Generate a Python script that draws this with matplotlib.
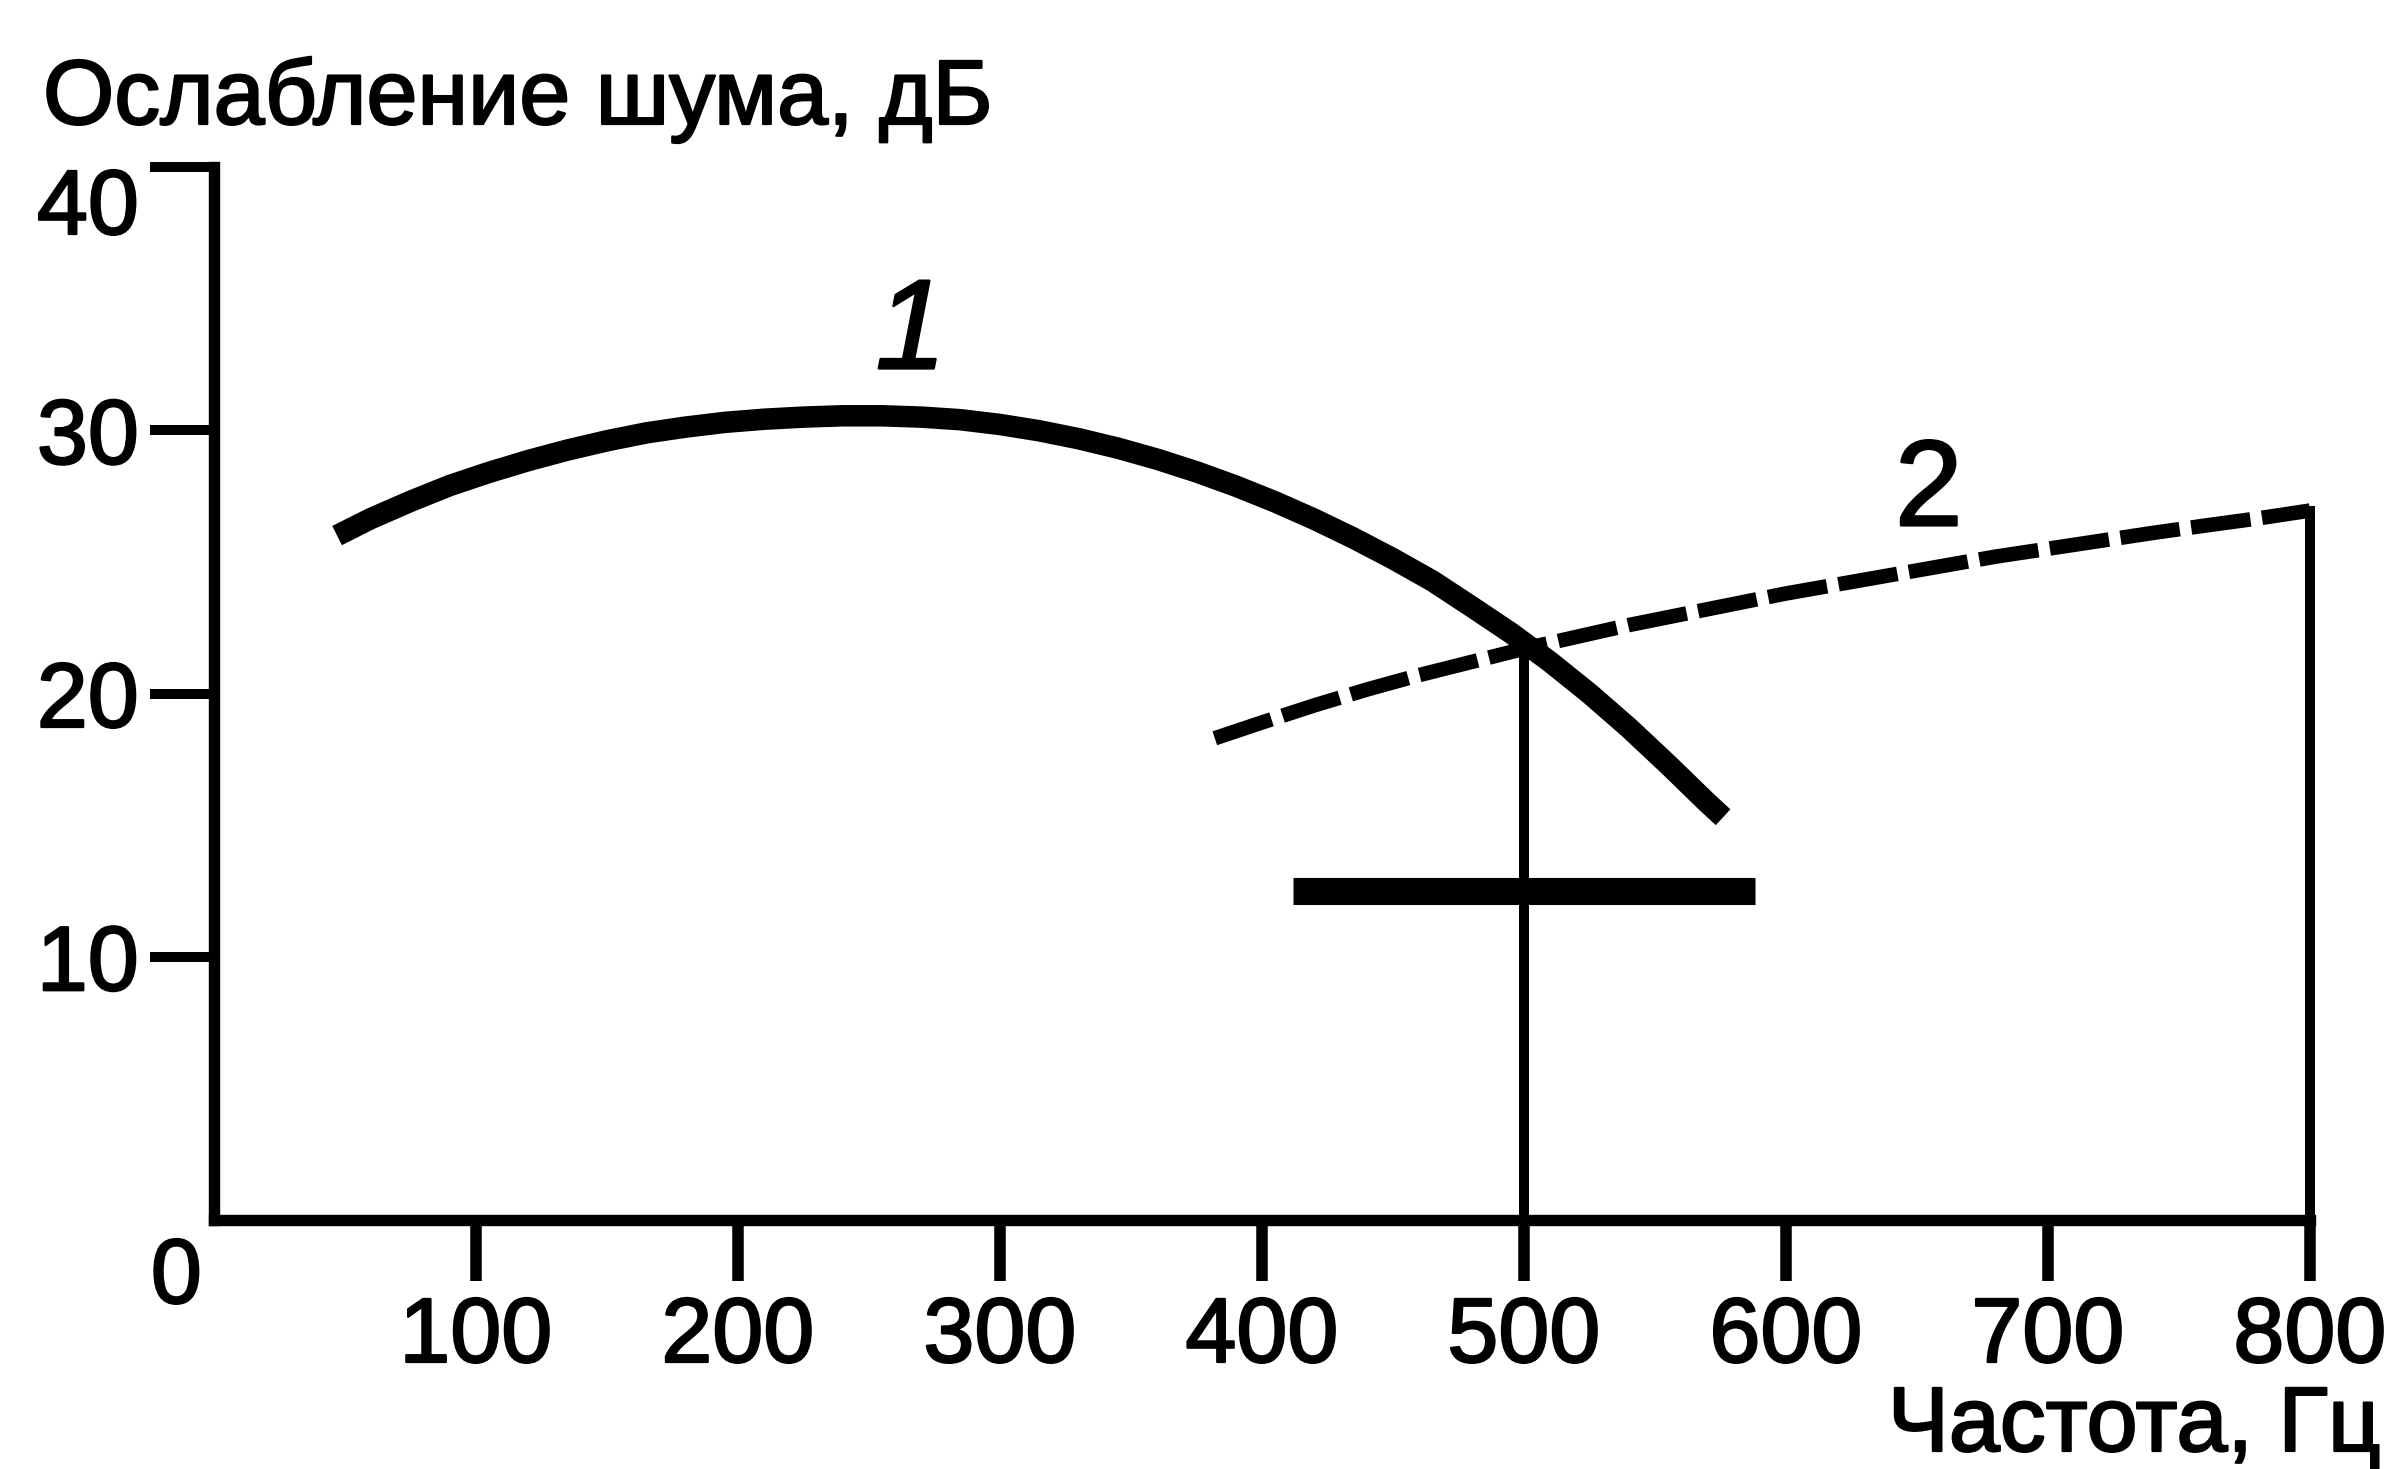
import matplotlib
matplotlib.use("Agg")
import matplotlib.pyplot as plt
import matplotlib.patheffects as pe

plt.rcParams['font.family'] = ['Liberation Sans', 'DejaVu Sans']

# curve 1 - solid
freq_1 = [47, 60, 75, 90, 105, 120, 135, 150, 165, 180, 195, 210, 225, 240, 255,
          270, 285, 300, 315, 330, 345, 360, 375, 390, 405, 420, 435, 450, 465,
          480, 495, 510, 525, 540, 555, 570, 576]
atten_1 = [26.0, 26.65, 27.3, 27.9, 28.4, 28.85, 29.25, 29.6, 29.9, 30.12, 30.3,
           30.42, 30.5, 30.55, 30.55, 30.5, 30.4, 30.22, 29.98, 29.68, 29.32,
           28.9, 28.42, 27.88, 27.28, 26.62, 25.9, 25.12, 24.28, 23.3, 22.3,
           21.2, 20.0, 18.7, 17.3, 15.85, 15.3]

# curve 2 - dashed
freq_2 = [382, 400, 420, 440, 460, 480, 500, 520, 540, 560, 580, 600, 620, 640,
          660, 680, 700, 720, 740, 760, 780, 800]
atten_2 = [18.3, 18.9, 19.55, 20.15, 20.7, 21.2, 21.7, 22.15, 22.6, 23.0, 23.4,
           23.8, 24.15, 24.5, 24.85, 25.2, 25.5, 25.8, 26.1, 26.38, 26.65, 26.95]

# horizontal bar and vertical marker lines
bar_x = [412, 588]
bar_y = 12.5
marker_x = [500, 800]
marker_top = [21.75, 26.95]

x_ticks = [100, 200, 300, 400, 500, 600, 700, 800]
y_ticks = [10, 20, 30, 40]

heavy = [pe.withStroke(linewidth=1.6, foreground='black')]

fig = plt.figure(figsize=(24.01, 14.69), dpi=100)
ax = fig.add_axes([0.0891, 0.1695, 0.9621 - 0.0891, 0.8863 - 0.1695])

ax.plot(freq_1, atten_1, color='black', lw=15.5, solid_capstyle='butt',
        solid_joinstyle='round', clip_on=False)
ax.plot(freq_2, atten_2, color='black', lw=10.5, dashes=(4.1, 0.8),
        dash_capstyle='butt', clip_on=False)
ax.plot(bar_x, [bar_y, bar_y], color='black', lw=19.5, solid_capstyle='butt')
for mx, mt in zip(marker_x, marker_top):
    ax.plot([mx, mx], [0, mt], color='black', lw=7.2, clip_on=False)

ax.set_xlim(0, 800)
ax.set_ylim(0, 40)
ax.spines['top'].set_visible(False)
ax.spines['right'].set_visible(False)
for s in ['left', 'bottom']:
    ax.spines[s].set_linewidth(8.2)
    ax.spines[s].set_capstyle('projecting')

ax.set_xticks(x_ticks)
ax.set_yticks(y_ticks)
ax.tick_params(axis='x', direction='out', length=44, width=8.3, pad=10, labelsize=66)
ax.tick_params(axis='y', direction='out', length=46, width=7.2, pad=8, labelsize=66)
ax.get_yticklabels()[-1].set_va('top')
for t in ax.get_xticklabels() + ax.get_yticklabels():
    t.set_path_effects(heavy)

fig.text(202 / 2401, 1 - 1236 / 1469, '0', ha='right', va='top', fontsize=66,
         path_effects=heavy)
fig.text(43 / 2401, 1 - 124 / 1469, 'Ослабление шума, дБ', ha='left',
         va='baseline', fontsize=66, path_effects=heavy)
fig.text(2381 / 2401, 1 - 1451 / 1469, 'Частота, Гц', ha='right',
         va='baseline', fontsize=66, path_effects=heavy)

ax.text(266, 33.6, '1', fontsize=92, style='italic', ha='center', va='center',
        path_effects=heavy)
ax.text(654.5, 27.6, '2', fontsize=88, ha='center', va='center',
        path_effects=heavy)

fig.savefig('out.png', dpi=100)
